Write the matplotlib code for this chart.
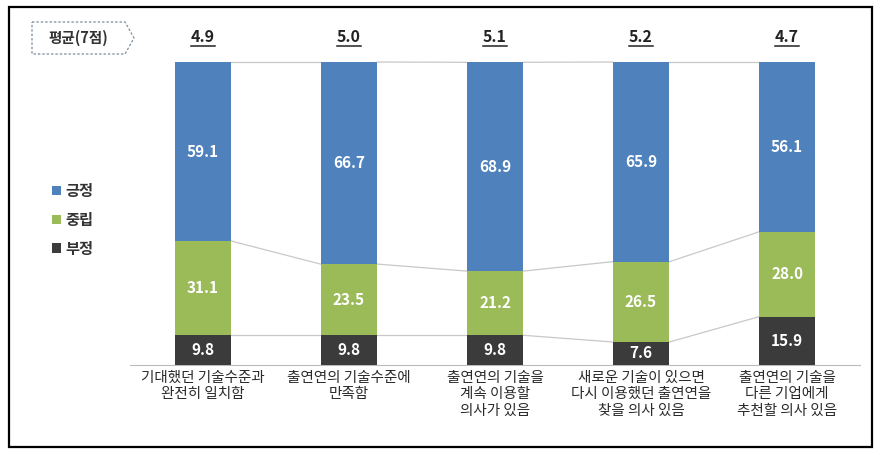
import numpy as np
import matplotlib.pyplot as plt
from matplotlib.patches import Polygon, Rectangle

plt.rcParams['font.family'] = ['Noto Sans CJK KR', 'DejaVu Sans']

categories = ['기대했던 기술수준과\n완전히 일치함',
              '출연연의 기술수준에\n만족함',
              '출연연의 기술을\n계속 이용할\n의사가 있음',
              '새로운 기술이 있으면\n다시 이용했던 출연연을\n찾을 의사 있음',
              '출연연의 기술을\n다른 기업에게\n추천할 의사 있음']
positive = [59.1, 66.7, 68.9, 65.9, 56.1]
neutral = [31.1, 23.5, 21.2, 26.5, 28.0]
negative = [9.8, 9.8, 9.8, 7.6, 15.9]
averages = ['4.9', '5.0', '5.1', '5.2', '4.7']
series_names = ['긍정', '중립', '부정']
colors = ['#4f81bd', '#9bbb59', '#3b3b3b']

W, H = 882, 455
fig = plt.figure(figsize=(W / 100, H / 100), dpi=100)
ax = fig.add_axes([130 / W, (H - 365) / H, 730 / W, 303 / H])

x = np.arange(len(categories))
bw = 0.39
neg = np.array(negative)
neu = np.array(neutral)
pos = np.array(positive)
b1 = ax.bar(x, neg, bw, color=colors[2], zorder=3)
b2 = ax.bar(x, neu, bw, bottom=neg, color=colors[1], zorder=3)
b3 = ax.bar(x, pos, bw, bottom=neg + neu, color=colors[0], zorder=3)

# series lines between bars
for lev in [neg, neg + neu, neg + neu + pos]:
    for i in range(len(x) - 1):
        ax.plot([x[i] + bw / 2, x[i + 1] - bw / 2], [lev[i], lev[i + 1]],
                color='#c8c8c8', lw=0.9, zorder=2, clip_on=False)

for vals, bots in [(neg, np.zeros(5)), (neu, neg), (pos, neg + neu)]:
    for i, v in enumerate(vals):
        ax.text(x[i], bots[i] + v / 2, f'{v:.1f}', ha='center', va='center',
                color='white', fontsize=11, fontweight='bold', zorder=4)

# averages, underlined
for i, a in enumerate(averages):
    ax.text(x[i], 106.6, a, ha='center', va='baseline', fontsize=11.5,
            fontweight='bold', color='#222222', clip_on=False)
    ax.plot([x[i] - 0.082, x[i] + 0.082], [105.4, 105.4], color='#222222',
            lw=1.1, clip_on=False)

ax.set_xlim(-0.5, 4.5)
ax.set_ylim(0, 100)
ax.set_xticks(x)
ax.set_xticklabels(categories, fontsize=10.5, color='#2a2a2a', linespacing=1.25)
ax.tick_params(axis='x', length=0, pad=4)
ax.set_yticks([])
for s in ['top', 'right', 'left']:
    ax.spines[s].set_visible(False)
ax.spines['bottom'].set_color('#bbbbbb')

# legend
ax.legend([b3, b2, b1], series_names, loc='upper left', bbox_to_anchor=(38 / W, 1 - 169 / H),
          bbox_transform=fig.transFigure, frameon=False, handlelength=0.6, handleheight=0.6,
          handletextpad=0.3, labelspacing=0.85, prop={'size': 11, 'weight': 'bold'},
          labelcolor='#333333')

# "평균(7점)" tag
tag = Polygon([(32 / W, 1 - 22 / H), (125 / W, 1 - 22 / H), (134 / W, 1 - 38 / H),
               (125 / W, 1 - 54 / H), (32 / W, 1 - 54 / H)], closed=True,
              transform=fig.transFigure, fill=False, edgecolor='#7f8fa0', lw=0.9, ls=(0, (2, 1.5)))
fig.add_artist(tag)
fig.text(78 / W, 1 - 38 / H, '평균(7점)', ha='center', va='center', fontsize=10.5,
         fontweight='bold', color='#333333')

# outer border
fig.add_artist(Rectangle((9 / W, 8 / H), 863 / W, 440 / H, transform=fig.transFigure,
                         fill=False, edgecolor='black', lw=1.6))

fig.savefig('out.png', dpi=100)
